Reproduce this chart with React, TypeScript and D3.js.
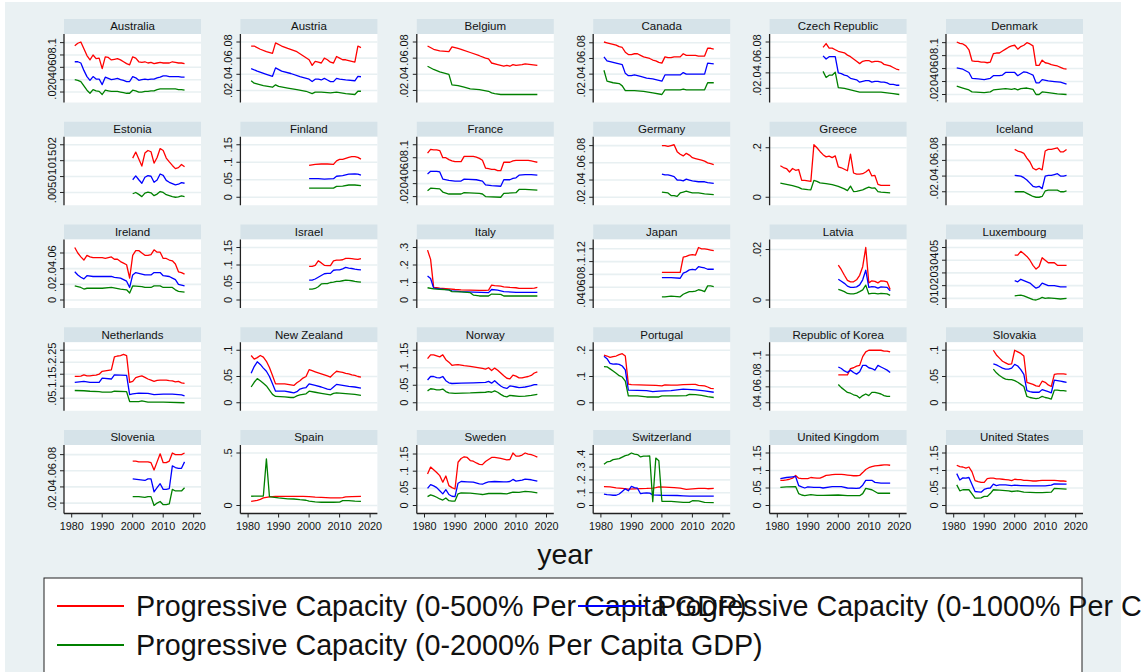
import React from "react";
import * as d3 from "d3";

type Pt = [number, number];

const COUNTRIES = [
  "Australia", "Austria", "Belgium", "Canada", "Czech Republic", "Denmark",
  "Estonia", "Finland", "France", "Germany", "Greece", "Iceland",
  "Ireland", "Israel", "Italy", "Japan", "Latvia", "Luxembourg",
  "Netherlands", "New Zealand", "Norway", "Portugal", "Republic of Korea", "Slovakia",
  "Slovenia", "Spain", "Sweden", "Switzerland", "United Kingdom", "United States",
];

const Y_TICKS: number[][] = [
  [.02, .04, .06, .08, .1], [.02, .04, .06, .08], [.02, .04, .06, .08], [.02, .04, .06, .08], [.02, .04, .06, .08], [.02, .04, .06, .08, .1],
  [.005, .01, .015, .02], [0, .05, .1, .15], [.02, .04, .06, .08, .1], [.02, .04, .06, .08], [0, .2], [.02, .04, .06, .08],
  [0, .02, .04, .06], [0, .05, .1, .15], [0, .1, .2, .3], [.04, .06, .08, .1, .12], [0, .02], [.01, .02, .03, .04, .05],
  [.05, .1, .15, .2, .25], [0, .05, .1], [0, .05, .1, .15], [0, .1, .2], [.04, .06, .08, .1], [0, .05, .1],
  [.02, .04, .06, .08], [0, .5], [0, .05, .1, .15], [0, .1, .2, .3, .4], [0, .05, .1, .15], [0, .05, .1, .15],
];

const X_TICKS = [1980, 1990, 2000, 2010, 2020];

// Progressive Capacity (0-500% Per Capita GDP)
const CAP_500: Pt[][] = [
  [[1981,.095],[1982,.099],[1983,.101],[1984,.09],[1985,.079],[1986,.072],[1987,.080],[1988,.074],[1989,.075],[1990,.058],[1991,.077],[1992,.076],[1993,.072],[1994,.073],[1995,.074],[1996,.072],[1997,.069],[1998,.066],[1999,.064],[2000,.077],[2001,.075],[2002,.069],[2003,.068],[2004,.069],[2005,.067],[2006,.068],[2007,.066],[2008,.067],[2009,.068],[2010,.067],[2011,.067],[2012,.067],[2013,.069],[2014,.068],[2015,.067],[2016,.067],[2017,.066]],
  [[1981,.075],[1982,.075],[1984,.071],[1986,.068],[1988,.066],[1989,.079],[1991,.075],[1993,.072],[1996,.068],[1998,.063],[2000,.058],[2001,.051],[2002,.056],[2003,.055],[2004,.054],[2005,.060],[2006,.058],[2007,.055],[2008,.054],[2009,.062],[2010,.060],[2011,.058],[2012,.058],[2013,.057],[2014,.056],[2015,.055],[2016,.075],[2017,.073]],
  [[1981,.075],[1983,.071],[1985,.069],[1988,.068],[1989,.074],[1991,.072],[1992,.071],[1995,.067],[1998,.063],[2000,.060],[2001,.059],[2002,.054],[2004,.052],[2006,.050],[2007,.051],[2008,.050],[2009,.052],[2010,.051],[2012,.052],[2013,.053],[2015,.052],[2017,.051]],
  [[1981,.081],[1982,.080],[1983,.079],[1984,.078],[1985,.077],[1986,.075],[1987,.074],[1988,.068],[1989,.065],[1990,.065],[1991,.066],[1992,.066],[1993,.064],[1994,.062],[1995,.061],[1996,.060],[1997,.058],[1998,.057],[1999,.055],[2000,.054],[2001,.062],[2002,.061],[2003,.061],[2004,.062],[2005,.062],[2006,.062],[2007,.066],[2008,.064],[2009,.064],[2010,.064],[2011,.064],[2012,.063],[2013,.063],[2014,.063],[2015,.073],[2016,.073],[2017,.072]],
  [[1995,.073],[1996,.078],[1997,.072],[1998,.072],[1999,.070],[2000,.068],[2001,.067],[2002,.066],[2003,.063],[2004,.061],[2005,.058],[2006,.055],[2007,.052],[2008,.055],[2009,.056],[2010,.056],[2011,.054],[2012,.055],[2013,.055],[2014,.054],[2015,.051],[2016,.050],[2017,.049],[2018,.047],[2019,.045],[2020,.044]],
  [[1981,.101],[1982,.099],[1983,.098],[1984,.095],[1985,.089],[1986,.072],[1987,.071],[1988,.071],[1989,.070],[1990,.070],[1991,.069],[1992,.070],[1993,.083],[1994,.084],[1995,.084],[1996,.087],[1997,.090],[1998,.093],[1999,.095],[2000,.096],[2001,.090],[2002,.094],[2003,.096],[2004,.100],[2005,.098],[2006,.095],[2007,.065],[2008,.065],[2009,.073],[2010,.069],[2011,.068],[2012,.066],[2013,.065],[2014,.064],[2015,.062],[2016,.060],[2017,.059]],
  [[2000,.0158],[2001,.0177],[2002,.0155],[2003,.0133],[2004,.0174],[2005,.0182],[2006,.0178],[2007,.0142],[2008,.016],[2009,.0188],[2010,.0182],[2011,.0158],[2012,.0146],[2013,.0135],[2014,.0125],[2015,.0128],[2016,.0138],[2017,.0131]],
  [[2000,.091],[2002,.094],[2004,.095],[2006,.095],[2008,.094],[2009,.104],[2010,.108],[2011,.108],[2012,.111],[2013,.114],[2014,.116],[2015,.116],[2016,.114],[2017,.109]],
  [[1981,.087],[1982,.093],[1983,.092],[1984,.092],[1985,.091],[1986,.080],[1987,.080],[1988,.077],[1989,.075],[1990,.074],[1991,.074],[1992,.074],[1993,.082],[1994,.082],[1995,.082],[1996,.082],[1997,.081],[1998,.079],[1999,.076],[2000,.064],[2001,.063],[2002,.062],[2003,.062],[2004,.060],[2005,.060],[2006,.073],[2007,.073],[2008,.073],[2009,.075],[2010,.076],[2011,.076],[2012,.076],[2013,.076],[2014,.076],[2015,.075],[2016,.074],[2017,.073]],
  [[2000,.080],[2001,.080],[2002,.079],[2003,.080],[2004,.081],[2005,.073],[2006,.070],[2007,.068],[2008,.071],[2009,.069],[2010,.066],[2011,.065],[2012,.064],[2013,.063],[2014,.062],[2015,.060],[2016,.059],[2017,.058]],
  [[1981,.127],[1982,.120],[1983,.116],[1984,.102],[1985,.116],[1986,.109],[1987,.112],[1988,.068],[1989,.068],[1990,.066],[1991,.064],[1992,.212],[1993,.200],[1994,.185],[1995,.172],[1996,.163],[1997,.166],[1998,.160],[1999,.167],[2000,.123],[2001,.119],[2002,.113],[2003,.107],[2004,.174],[2005,.098],[2006,.093],[2007,.093],[2008,.095],[2009,.102],[2010,.112],[2011,.086],[2012,.088],[2013,.052],[2014,.048],[2015,.048],[2016,.048],[2017,.048]],
  [[2000,.074],[2001,.072],[2002,.071],[2003,.069],[2004,.063],[2005,.058],[2006,.050],[2007,.048],[2008,.050],[2009,.048],[2010,.072],[2011,.074],[2012,.074],[2013,.075],[2014,.076],[2015,.071],[2016,.071],[2017,.074]],
  [[1981,.067],[1982,.060],[1983,.055],[1984,.051],[1985,.057],[1986,.055],[1987,.054],[1988,.054],[1989,.054],[1990,.054],[1991,.053],[1992,.054],[1993,.055],[1994,.052],[1995,.052],[1996,.049],[1997,.047],[1998,.045],[1999,.028],[2000,.057],[2001,.063],[2002,.063],[2003,.060],[2004,.057],[2005,.057],[2006,.058],[2007,.064],[2008,.061],[2009,.061],[2010,.053],[2011,.053],[2012,.051],[2013,.050],[2014,.046],[2015,.036],[2016,.035],[2017,.033]],
  [[2000,.096],[2001,.096],[2002,.099],[2003,.112],[2004,.106],[2005,.099],[2006,.098],[2007,.098],[2008,.112],[2009,.114],[2010,.114],[2011,.115],[2012,.119],[2013,.119],[2014,.118],[2015,.117],[2016,.116],[2017,.118]],
  [[1981,.285],[1982,.232],[1983,.072],[1984,.070],[1985,.068],[1988,.064],[1990,.060],[1992,.058],[1995,.057],[1998,.055],[2000,.055],[2001,.056],[2002,.085],[2003,.082],[2005,.079],[2006,.075],[2008,.072],[2010,.070],[2011,.066],[2013,.066],[2015,.067],[2016,.068],[2017,.072]],
  [[2000,.083],[2002,.083],[2004,.083],[2006,.083],[2007,.107],[2008,.108],[2009,.110],[2010,.111],[2011,.110],[2012,.122],[2013,.120],[2014,.120],[2015,.119],[2016,.118],[2017,.117]],
  [[2000,.0138],[2001,.0120],[2002,.0098],[2003,.0078],[2004,.0072],[2005,.0072],[2006,.0080],[2007,.0098],[2008,.0132],[2009,.0208],[2010,.0068],[2011,.0076],[2012,.0074],[2013,.0068],[2014,.0076],[2015,.0075],[2016,.0072],[2017,.0042]],
  [[2000,.044],[2001,.044],[2002,.047],[2003,.045],[2004,.043],[2005,.040],[2006,.036],[2007,.033],[2008,.035],[2009,.042],[2010,.040],[2011,.038],[2012,.038],[2013,.038],[2014,.036],[2015,.036],[2016,.036],[2017,.036]],
  [[1981,.141],[1982,.141],[1983,.142],[1984,.147],[1985,.143],[1986,.143],[1987,.145],[1988,.146],[1989,.150],[1990,.162],[1991,.164],[1992,.166],[1993,.168],[1994,.222],[1995,.226],[1996,.228],[1997,.233],[1998,.228],[1999,.116],[2000,.120],[2001,.136],[2002,.140],[2003,.143],[2004,.137],[2005,.130],[2006,.125],[2007,.120],[2008,.124],[2009,.125],[2010,.125],[2011,.125],[2012,.123],[2013,.122],[2014,.118],[2015,.120],[2016,.114],[2017,.112]],
  [[1981,.090],[1982,.083],[1983,.086],[1984,.090],[1985,.087],[1986,.079],[1987,.067],[1988,.052],[1989,.036],[1990,.036],[1991,.036],[1992,.036],[1993,.035],[1994,.034],[1995,.033],[1996,.038],[1997,.042],[1998,.047],[1999,.050],[2000,.063],[2001,.061],[2002,.059],[2003,.057],[2004,.055],[2005,.053],[2006,.051],[2007,.049],[2008,.055],[2009,.060],[2010,.059],[2011,.058],[2012,.056],[2013,.055],[2014,.053],[2015,.052],[2016,.050],[2017,.049]],
  [[1981,.126],[1982,.137],[1983,.137],[1984,.134],[1985,.131],[1986,.137],[1987,.123],[1988,.116],[1989,.107],[1990,.108],[1991,.109],[1993,.106],[1995,.104],[1997,.101],[1999,.098],[2000,.096],[2001,.100],[2002,.092],[2003,.099],[2004,.093],[2005,.085],[2006,.077],[2007,.070],[2008,.068],[2009,.079],[2010,.076],[2011,.071],[2012,.071],[2013,.073],[2014,.075],[2015,.078],[2016,.085],[2017,.088]],
  [[1981,.181],[1982,.178],[1983,.173],[1984,.176],[1985,.178],[1986,.183],[1987,.187],[1988,.178],[1989,.071],[1990,.069],[1995,.067],[1998,.066],[2000,.064],[2001,.068],[2003,.067],[2005,.067],[2007,.069],[2010,.070],[2011,.070],[2012,.066],[2014,.064],[2015,.060],[2016,.055],[2017,.054]],
  [[2000,.075],[2001,.075],[2002,.075],[2003,.075],[2004,.083],[2005,.084],[2006,.086],[2007,.087],[2008,.098],[2009,.104],[2010,.106],[2011,.106],[2012,.106],[2013,.106],[2014,.106],[2015,.105],[2016,.105],[2017,.104]],
  [[1993,.100],[1994,.091],[1995,.085],[1996,.079],[1997,.076],[1998,.073],[1999,.074],[2000,.100],[2001,.097],[2002,.094],[2003,.089],[2004,.039],[2005,.037],[2006,.035],[2007,.032],[2008,.031],[2009,.041],[2010,.039],[2011,.034],[2012,.031],[2013,.054],[2014,.055],[2015,.055],[2016,.055],[2017,.054]],
  [[2000,.072],[2001,.072],[2002,.071],[2003,.071],[2004,.071],[2005,.071],[2006,.070],[2007,.061],[2008,.071],[2009,.081],[2010,.070],[2011,.070],[2012,.072],[2013,.082],[2014,.080],[2015,.080],[2016,.080],[2017,.082]],
  [[1981,.040],[1982,.044],[1983,.048],[1984,.058],[1985,.072],[1986,.078],[1987,.083],[1988,.085],[1989,.087],[1990,.087],[1995,.087],[1998,.086],[2000,.085],[2002,.080],[2004,.077],[2007,.073],[2010,.072],[2011,.076],[2012,.083],[2014,.084],[2017,.087]],
  [[1981,.092],[1982,.112],[1983,.104],[1984,.096],[1985,.087],[1986,.068],[1987,.086],[1988,.058],[1989,.052],[1990,.048],[1991,.126],[1992,.137],[1993,.142],[1994,.140],[1995,.131],[1996,.129],[1997,.124],[1998,.120],[1999,.119],[2000,.128],[2001,.134],[2002,.140],[2003,.140],[2004,.139],[2005,.137],[2006,.135],[2007,.133],[2008,.134],[2009,.153],[2010,.144],[2011,.144],[2012,.147],[2013,.153],[2014,.150],[2015,.148],[2016,.145],[2017,.141]],
  [[1981,.148],[1983,.145],[1985,.138],[1987,.133],[1989,.128],[1991,.130],[1993,.132],[1995,.133],[1997,.136],[1998,.140],[1999,.145],[2001,.143],[2004,.140],[2006,.136],[2008,.126],[2010,.130],[2012,.133],[2014,.134],[2015,.131],[2017,.133]],
  [[1981,.072],[1982,.072],[1983,.073],[1984,.075],[1985,.078],[1986,.086],[1987,.078],[1988,.077],[1989,.077],[1990,.077],[1991,.080],[1992,.079],[1993,.078],[1994,.078],[1995,.082],[1996,.086],[1997,.087],[1998,.088],[1999,.089],[2000,.089],[2001,.089],[2002,.088],[2003,.087],[2004,.086],[2005,.085],[2006,.085],[2007,.086],[2008,.094],[2009,.103],[2010,.108],[2011,.111],[2012,.113],[2013,.114],[2014,.115],[2015,.116],[2016,.116],[2017,.115]],
  [[1981,.115],[1982,.111],[1983,.110],[1984,.107],[1985,.110],[1986,.096],[1987,.071],[1988,.068],[1989,.066],[1990,.066],[1991,.077],[1992,.078],[1993,.078],[1994,.076],[1995,.076],[1996,.075],[1997,.074],[1998,.073],[1999,.071],[2000,.075],[2001,.074],[2002,.074],[2003,.072],[2004,.072],[2005,.071],[2006,.070],[2007,.070],[2008,.071],[2009,.072],[2010,.072],[2011,.072],[2012,.072],[2013,.072],[2014,.071],[2015,.070],[2016,.070],[2017,.069]],
];

// Progressive Capacity (0-1000% Per Capita GDP)
const CAP_1000: Pt[][] = [
  [[1981,.069],[1982,.069],[1983,.067],[1984,.055],[1985,.045],[1986,.039],[1987,.045],[1988,.041],[1989,.041],[1990,.032],[1991,.044],[1992,.042],[1993,.040],[1994,.041],[1995,.042],[1996,.040],[1997,.039],[1998,.037],[1999,.037],[2000,.045],[2001,.043],[2002,.039],[2003,.040],[2004,.041],[2005,.040],[2006,.041],[2007,.041],[2008,.043],[2009,.044],[2010,.046],[2011,.046],[2012,.045],[2013,.045],[2014,.045],[2015,.045],[2016,.044],[2017,.044]],
  [[1981,.047],[1983,.044],[1986,.040],[1988,.0375],[1989,.048],[1991,.044],[1994,.041],[1997,.037],[2000,.034],[2001,.031],[2002,.034],[2003,.034],[2004,.033],[2005,.035],[2006,.033],[2007,.031],[2008,.031],[2009,.035],[2010,.034],[2012,.033],[2015,.032],[2016,.0375],[2017,.037]],
  [],
  [[1981,.062],[1982,.057],[1984,.055],[1986,.053],[1987,.052],[1988,.041],[1989,.038],[1990,.038],[1991,.039],[1993,.037],[1995,.035],[1997,.034],[1999,.032],[2000,.031],[2001,.039],[2003,.039],[2005,.039],[2006,.039],[2007,.042],[2008,.040],[2010,.040],[2012,.040],[2014,.040],[2015,.054],[2017,.053]],
  [[1995,.062],[1996,.058],[1997,.061],[1998,.061],[1999,.061],[2000,.040],[2001,.039],[2002,.037],[2003,.036],[2004,.033],[2005,.032],[2006,.031],[2007,.028],[2008,.029],[2009,.030],[2010,.030],[2011,.028],[2012,.029],[2013,.029],[2014,.028],[2015,.028],[2016,.027],[2017,.025],[2018,.025],[2019,.024],[2020,.024]],
  [[1981,.061],[1983,.059],[1985,.054],[1986,.045],[1988,.044],[1990,.043],[1992,.045],[1993,.049],[1995,.049],[1996,.050],[1997,.054],[1999,.054],[2000,.054],[2001,.049],[2002,.052],[2003,.055],[2004,.054],[2005,.052],[2006,.050],[2007,.038],[2008,.038],[2009,.043],[2011,.041],[2013,.040],[2015,.039],[2017,.036]],
  [[2000,.009],[2001,.0102],[2002,.009],[2003,.0079],[2004,.0098],[2005,.0103],[2006,.0101],[2007,.0082],[2008,.0089],[2009,.0108],[2010,.0104],[2011,.0088],[2012,.0082],[2013,.0078],[2014,.0074],[2015,.0076],[2016,.0081],[2017,.0079]],
  [[2000,.053],[2003,.053],[2005,.052],[2008,.053],[2009,.060],[2011,.062],[2013,.066],[2015,.067],[2016,.066],[2017,.063]],
  [[1981,.055],[1982,.059],[1984,.059],[1985,.058],[1986,.047],[1988,.045],[1990,.044],[1992,.044],[1993,.047],[1997,.046],[1999,.044],[2000,.038],[2002,.037],[2005,.036],[2006,.046],[2008,.046],[2009,.048],[2010,.049],[2011,.053],[2013,.054],[2015,.054],[2017,.053]],
  [[2000,.047],[2001,.046],[2002,.046],[2003,.045],[2004,.044],[2005,.040],[2006,.040],[2007,.039],[2008,.041],[2009,.040],[2010,.039],[2012,.038],[2014,.038],[2015,.037],[2017,.036]],
  [],
  [[2000,.041],[2002,.040],[2003,.038],[2004,.035],[2005,.031],[2006,.027],[2007,.026],[2008,.027],[2009,.024],[2010,.040],[2011,.041],[2012,.041],[2013,.042],[2014,.043],[2015,.040],[2016,.040],[2017,.041]],
  [[1981,.036],[1982,.032],[1983,.029],[1984,.027],[1985,.031],[1987,.030],[1990,.030],[1992,.030],[1993,.030],[1994,.029],[1996,.028],[1997,.026],[1998,.024],[1999,.016],[2000,.032],[2001,.035],[2002,.034],[2004,.032],[2006,.032],[2007,.035],[2008,.035],[2009,.035],[2010,.031],[2012,.030],[2013,.028],[2014,.026],[2015,.020],[2016,.019],[2017,.018]],
  [[2000,.057],[2001,.057],[2002,.060],[2003,.065],[2004,.070],[2005,.075],[2006,.076],[2007,.076],[2008,.085],[2009,.086],[2010,.086],[2011,.089],[2012,.093],[2013,.091],[2014,.090],[2015,.088],[2016,.087],[2017,.086]],
  [[1981,.137],[1982,.123],[1983,.068],[1985,.064],[1988,.058],[1989,.052],[1992,.048],[1996,.045],[2001,.042],[2002,.060],[2004,.057],[2006,.048],[2010,.044],[2017,.044]],
  [[2000,.075],[2003,.075],[2006,.074],[2007,.082],[2008,.084],[2009,.087],[2010,.088],[2011,.087],[2012,.092],[2013,.091],[2014,.090],[2015,.088],[2017,.088]],
  [[2000,.0082],[2001,.0074],[2002,.0066],[2003,.0055],[2004,.0050],[2005,.0050],[2006,.0052],[2007,.0060],[2008,.0080],[2009,.0118],[2010,.0050],[2011,.0053],[2012,.0052],[2013,.0047],[2014,.0052],[2015,.0051],[2016,.0050],[2017,.0036]],
  [[2000,.024],[2001,.023],[2002,.025],[2003,.024],[2004,.023],[2005,.022],[2006,.020],[2007,.018],[2008,.019],[2009,.022],[2010,.021],[2011,.020],[2013,.020],[2015,.019],[2017,.019]],
  [[1981,.116],[1984,.120],[1986,.116],[1989,.116],[1990,.134],[1993,.130],[1994,.147],[1998,.145],[1999,.065],[2000,.068],[2002,.071],[2005,.070],[2007,.065],[2010,.067],[2013,.067],[2016,.064],[2017,.060]],
  [[1981,.056],[1982,.069],[1983,.078],[1984,.073],[1985,.066],[1986,.060],[1987,.050],[1988,.036],[1989,.022],[1992,.022],[1994,.020],[1995,.019],[1996,.021],[1997,.026],[1998,.028],[1999,.029],[2000,.036],[2002,.033],[2004,.030],[2006,.026],[2007,.025],[2008,.030],[2009,.035],[2011,.033],[2013,.031],[2015,.030],[2017,.028]],
  [[1981,.065],[1982,.075],[1983,.075],[1984,.072],[1985,.071],[1986,.075],[1987,.063],[1988,.057],[1989,.055],[1992,.056],[1996,.057],[2000,.058],[2001,.061],[2002,.056],[2003,.063],[2004,.055],[2005,.048],[2006,.043],[2007,.041],[2008,.048],[2009,.047],[2010,.045],[2011,.043],[2012,.044],[2013,.045],[2014,.047],[2015,.049],[2016,.052],[2017,.052]],
  [[1981,.177],[1982,.168],[1983,.150],[1984,.147],[1985,.148],[1986,.146],[1987,.140],[1988,.125],[1989,.048],[1995,.046],[1997,.042],[1999,.044],[2003,.046],[2007,.052],[2011,.049],[2014,.045],[2017,.040]],
  [[2000,.085],[2001,.083],[2002,.080],[2003,.078],[2004,.081],[2005,.078],[2006,.076],[2007,.079],[2008,.087],[2009,.087],[2010,.084],[2011,.083],[2012,.081],[2013,.087],[2014,.085],[2015,.083],[2016,.081],[2017,.078]],
  [[1993,.074],[1994,.072],[1995,.069],[1996,.066],[1997,.064],[1998,.064],[1999,.066],[2000,.073],[2001,.070],[2002,.063],[2003,.054],[2004,.023],[2005,.021],[2006,.020],[2007,.020],[2008,.020],[2009,.025],[2010,.023],[2011,.021],[2012,.019],[2013,.043],[2014,.042],[2015,.041],[2016,.040],[2017,.039]],
  [[2000,.050],[2002,.049],[2004,.048],[2005,.050],[2006,.050],[2007,.034],[2008,.039],[2009,.044],[2010,.037],[2011,.037],[2012,.038],[2013,.066],[2014,.064],[2015,.063],[2016,.063],[2017,.071]],
  [],
  [[1981,.050],[1982,.061],[1983,.057],[1984,.052],[1985,.043],[1986,.034],[1987,.046],[1988,.032],[1989,.027],[1990,.026],[1991,.065],[1992,.070],[1994,.069],[1996,.068],[1998,.063],[1999,.062],[2000,.066],[2001,.069],[2003,.070],[2006,.069],[2007,.069],[2008,.070],[2009,.076],[2010,.071],[2012,.074],[2013,.077],[2015,.075],[2017,.071]],
  [[1981,.089],[1982,.085],[1983,.083],[1984,.080],[1985,.080],[1986,.090],[1987,.110],[1988,.130],[1989,.115],[1990,.150],[1991,.140],[1992,.135],[1993,.092],[1994,.097],[1995,.098],[1996,.097],[1997,.083],[2000,.080],[2005,.078],[2007,.075],[2009,.073],[2017,.073]],
  [[1981,.077],[1983,.080],[1985,.082],[1986,.083],[1987,.057],[1988,.053],[1989,.050],[1990,.053],[1992,.052],[1994,.052],[1995,.050],[1998,.054],[2001,.054],[2003,.050],[2006,.049],[2007,.050],[2008,.058],[2009,.072],[2011,.072],[2012,.066],[2014,.064],[2017,.064]],
  [[1981,.091],[1982,.073],[1983,.079],[1984,.078],[1985,.080],[1986,.060],[1987,.040],[1988,.039],[1989,.038],[1990,.046],[1991,.049],[1992,.050],[1993,.061],[1994,.057],[1995,.059],[1997,.059],[1999,.057],[2000,.058],[2002,.057],[2005,.056],[2008,.056],[2010,.056],[2012,.058],[2013,.062],[2017,.061]],
];

// Progressive Capacity (0-2000% Per Capita GDP)
const CAP_2000: Pt[][] = [
  [[1981,.040],[1982,.039],[1983,.037],[1984,.030],[1985,.023],[1986,.018],[1987,.024],[1988,.022],[1989,.021],[1990,.016],[1991,.023],[1992,.022],[1993,.021],[1994,.021],[1995,.021],[1996,.020],[1997,.019],[1998,.018],[1999,.018],[2000,.023],[2001,.022],[2002,.020],[2003,.020],[2004,.021],[2005,.021],[2006,.022],[2007,.022],[2008,.024],[2009,.025],[2010,.025],[2011,.025],[2012,.025],[2013,.025],[2014,.025],[2015,.024],[2016,.024],[2017,.023]],
  [[1981,.032],[1982,.029],[1985,.026],[1988,.024],[1989,.027],[1990,.025],[1993,.023],[1996,.021],[1999,.019],[2001,.016],[2002,.018],[2004,.018],[2007,.017],[2009,.018],[2012,.016],[2015,.015],[2016,.019],[2017,.019]],
  [[1981,.050],[1983,.046],[1985,.043],[1988,.040],[1989,.027],[1991,.026],[1993,.024],[1995,.022],[1998,.021],[2001,.019],[2002,.017],[2003,.016],[2005,.015],[2010,.015],[2013,.015],[2017,.015]],
  [[1981,.045],[1982,.031],[1984,.029],[1986,.028],[1987,.025],[1988,.019],[1991,.019],[1994,.018],[1997,.016],[2000,.014],[2001,.020],[2006,.020],[2007,.021],[2008,.020],[2014,.020],[2015,.029],[2017,.029]],
  [[1995,.042],[1996,.034],[1997,.037],[1998,.037],[1999,.041],[2000,.021],[2002,.020],[2004,.018],[2006,.016],[2007,.015],[2010,.015],[2012,.015],[2014,.015],[2016,.014],[2018,.013],[2020,.012]],
  [[1981,.033],[1983,.030],[1985,.027],[1986,.024],[1990,.023],[1992,.024],[1993,.027],[1997,.029],[1999,.028],[2000,.029],[2001,.027],[2002,.029],[2004,.030],[2006,.028],[2007,.020],[2008,.020],[2009,.024],[2011,.023],[2014,.021],[2017,.020]],
  [[2000,.0046],[2001,.005],[2002,.0044],[2003,.0037],[2004,.0048],[2005,.0051],[2006,.0049],[2007,.004],[2008,.0045],[2009,.0053],[2010,.005],[2011,.0043],[2012,.004],[2013,.0037],[2014,.0035],[2015,.0036],[2016,.0039],[2017,.0037]],
  [[2000,.026],[2008,.026],[2009,.031],[2011,.032],[2013,.035],[2015,.035],[2017,.033]],
  [[1981,.029],[1982,.033],[1985,.032],[1986,.027],[1988,.024],[1992,.024],[1993,.026],[1998,.025],[1999,.024],[2000,.020],[2005,.019],[2006,.025],[2010,.026],[2011,.031],[2013,.031],[2017,.030]],
  [[2000,.026],[2002,.025],[2003,.022],[2004,.022],[2005,.021],[2006,.025],[2007,.026],[2008,.027],[2009,.026],[2010,.025],[2012,.025],[2014,.024],[2017,.023]],
  [[1981,.057],[1983,.052],[1985,.047],[1987,.040],[1988,.034],[1990,.031],[1991,.030],[1992,.068],[1993,.064],[1994,.058],[1996,.055],[1998,.051],[2000,.044],[2002,.034],[2003,.027],[2004,.045],[2005,.023],[2006,.024],[2008,.030],[2009,.036],[2010,.041],[2011,.037],[2012,.038],[2013,.023],[2014,.021],[2017,.018]],
  [[2000,.020],[2003,.020],[2004,.018],[2005,.016],[2006,.014],[2007,.013],[2008,.013],[2009,.014],[2010,.021],[2011,.022],[2013,.022],[2014,.022],[2015,.020],[2016,.020],[2017,.021]],
  [[1981,.018],[1983,.016],[1984,.014],[1985,.015],[1990,.015],[1993,.016],[1996,.014],[1998,.013],[1999,.009],[2000,.018],[2003,.017],[2004,.016],[2006,.016],[2007,.018],[2009,.018],[2010,.016],[2013,.016],[2014,.013],[2015,.011],[2017,.010]],
  [[2000,.031],[2001,.031],[2002,.033],[2003,.038],[2004,.046],[2005,.047],[2006,.047],[2007,.050],[2008,.051],[2009,.053],[2010,.053],[2011,.055],[2012,.057],[2013,.056],[2014,.055],[2015,.053],[2016,.052],[2017,.051]],
  [[1981,.070],[1983,.063],[1985,.061],[1988,.058],[1989,.048],[1992,.047],[1995,.042],[1996,.028],[1998,.023],[2001,.023],[2002,.034],[2005,.032],[2006,.023],[2017,.023]],
  [[2000,.045],[2001,.045],[2003,.046],[2006,.045],[2007,.049],[2008,.051],[2009,.053],[2010,.053],[2011,.054],[2012,.056],[2013,.055],[2014,.053],[2015,.062],[2016,.062],[2017,.061]],
  [[2000,.0042],[2001,.0038],[2002,.0033],[2003,.0026],[2004,.0024],[2005,.0024],[2006,.0027],[2007,.0033],[2008,.0040],[2009,.0059],[2010,.0024],[2011,.0026],[2012,.0026],[2013,.0024],[2014,.0026],[2015,.0025],[2016,.0024],[2017,.0018]],
  [[2000,.012],[2002,.0126],[2003,.012],[2004,.011],[2005,.010],[2006,.009],[2007,.0087],[2008,.0095],[2009,.0108],[2010,.010],[2011,.0103],[2013,.010],[2015,.0095],[2017,.010]],
  [[1981,.082],[1984,.081],[1986,.079],[1989,.077],[1990,.075],[1993,.075],[1994,.079],[1998,.077],[1999,.036],[2002,.036],[2003,.039],[2005,.034],[2010,.034],[2017,.031]],
  [[1981,.030],[1982,.039],[1983,.046],[1984,.042],[1985,.037],[1986,.032],[1987,.024],[1988,.016],[1989,.012],[1992,.011],[1994,.010],[1995,.010],[1996,.013],[1997,.015],[1998,.016],[1999,.017],[2000,.022],[2002,.020],[2004,.018],[2006,.016],[2007,.015],[2008,.018],[2009,.019],[2011,.018],[2013,.017],[2015,.016],[2017,.014]],
  [[1981,.034],[1982,.040],[1983,.039],[1984,.037],[1985,.037],[1986,.039],[1987,.032],[1988,.028],[1990,.027],[1995,.028],[2000,.030],[2001,.032],[2002,.030],[2003,.034],[2004,.030],[2005,.024],[2006,.019],[2007,.017],[2008,.021],[2009,.020],[2011,.018],[2013,.019],[2015,.021],[2017,.024]],
  [[1981,.138],[1982,.137],[1983,.129],[1984,.121],[1985,.112],[1986,.103],[1987,.098],[1988,.082],[1989,.026],[1992,.026],[1995,.022],[1999,.022],[2000,.026],[2005,.026],[2008,.027],[2009,.032],[2011,.031],[2013,.028],[2015,.023],[2017,.020]],
  [[2000,.063],[2001,.059],[2002,.056],[2003,.053],[2004,.052],[2005,.050],[2006,.049],[2007,.046],[2008,.049],[2009,.051],[2010,.049],[2011,.053],[2012,.053],[2013,.052],[2014,.051],[2015,.049],[2016,.048],[2017,.048]],
  [[1993,.064],[1994,.057],[1995,.052],[1996,.048],[1997,.045],[1998,.044],[1999,.044],[2000,.042],[2001,.039],[2002,.035],[2003,.031],[2004,.012],[2005,.010],[2006,.009],[2007,.008],[2008,.009],[2009,.012],[2010,.010],[2011,.009],[2012,.007],[2013,.024],[2014,.024],[2015,.023],[2016,.023],[2017,.022]],
  [[2000,.028],[2002,.028],[2004,.027],[2005,.028],[2006,.028],[2007,.017],[2008,.020],[2009,.022],[2010,.018],[2011,.018],[2012,.019],[2013,.037],[2014,.035],[2015,.035],[2016,.035],[2017,.039]],
  [[1981,.088],[1982,.090],[1983,.090],[1984,.090],[1985,.090],[1986,.444],[1987,.084],[1988,.080],[1990,.072],[1993,.063],[1995,.062],[1997,.055],[1999,.050],[2000,.041],[2002,.035],[2004,.031],[2008,.031],[2010,.032],[2011,.046],[2013,.047],[2015,.041],[2017,.040]],
  [[1981,.026],[1982,.031],[1983,.028],[1984,.024],[1985,.019],[1986,.016],[1987,.022],[1988,.014],[1989,.013],[1990,.013],[1991,.034],[1992,.037],[1995,.036],[1998,.033],[1999,.032],[2001,.035],[2005,.035],[2007,.034],[2009,.039],[2011,.038],[2013,.041],[2015,.040],[2017,.037]],
  [[1981,.322],[1982,.340],[1983,.345],[1984,.358],[1985,.362],[1986,.366],[1987,.378],[1988,.390],[1989,.395],[1990,.410],[1991,.402],[1992,.398],[1993,.379],[1994,.385],[1995,.386],[1996,.387],[1997,.030],[1998,.370],[1999,.350],[2000,.033],[2003,.032],[2005,.029],[2007,.025],[2009,.024],[2010,.037],[2012,.036],[2014,.024],[2017,.023]],
  [[1981,.052],[1983,.053],[1986,.054],[1987,.034],[1988,.030],[1989,.028],[1991,.031],[1993,.029],[1995,.029],[2000,.030],[2003,.028],[2007,.028],[2008,.034],[2009,.049],[2011,.045],[2013,.035],[2017,.035]],
  [[1981,.059],[1982,.042],[1983,.045],[1985,.045],[1986,.033],[1987,.021],[1988,.021],[1989,.022],[1990,.026],[1991,.026],[1992,.034],[1993,.045],[1995,.044],[1998,.042],[1999,.040],[2001,.042],[2003,.038],[2007,.037],[2009,.037],[2012,.038],[2013,.049],[2017,.047]],
];

const SERIES_LABELS = [
  "Progressive Capacity (0-500% Per Capita GDP)",
  "Progressive Capacity (0-1000% Per Capita GDP)",
  "Progressive Capacity (0-2000% Per Capita GDP)",
];
const SERIES_COLORS = ["#ff0000", "#0000ff", "#008000"];
const X_TITLE = "year";

const W = 1141, H = 672;
const NCOL = 6;
const COL0 = 64, COL_STEP = 176.4, PW = 137;
const ROW0 = 19, ROW_STEP = 102.75, STRIP_H = 15, PH = 68.5;
const INNER = 8;
const FONT = "'Liberation Sans', Arial, Helvetica, sans-serif";
const BG = "#eaf1f3";
const STRIP = "#d6e3e9";
const GRID = "#e8f0f2";

function fmt(v: number): string {
  if (v === 0) return "0";
  const s = String(+v.toFixed(4));
  return s.replace(/^0\./, ".");
}

function Panel({ idx }: { idx: number }) {
  const col = idx % NCOL;
  const row = Math.floor(idx / NCOL);
  const left = COL0 + col * COL_STEP;
  const stripTop = ROW0 + row * ROW_STEP;
  const top = stripTop + STRIP_H;
  const bottom = top + PH;
  const isBottom = row === 4;

  const series = [CAP_500[idx], CAP_1000[idx], CAP_2000[idx]];
  const ticks = Y_TICKS[idx];
  const vals = series.flat().map((d) => d[1]).concat(ticks);
  const lo = d3.min(vals) as number;
  const hi = d3.max(vals) as number;

  const x = d3.scaleLinear().domain([1980, 2020]).range([left + 7.7, left + 129.7]);
  const y = d3.scaleLinear().domain([lo, hi]).range([bottom - INNER, top + INNER]);
  const line = d3.line<Pt>().x((d) => x(d[0])).y((d) => y(d[1]));

  return (
    <g>
      <rect x={left} y={stripTop} width={PW} height={STRIP_H} fill={STRIP} />
      <text x={left + PW / 2} y={stripTop + 11.4} textAnchor="middle" fontSize={11.5} fontFamily={FONT} fill="#111">
        {COUNTRIES[idx]}
      </text>
      <rect x={left} y={top} width={PW} height={PH} fill="#ffffff" />
      {ticks.map((t, i) => (
        <line key={"g" + i} x1={left} x2={left + PW} y1={y(t)} y2={y(t)} stroke={GRID} strokeWidth={1.6} />
      ))}
      {series.map((s, k) =>
        s.length ? (
          <path key={"s" + k} d={line(s) || ""} fill="none" stroke={SERIES_COLORS[k]} strokeWidth={1.3} strokeLinejoin="round" />
        ) : null
      )}
      <line x1={left} x2={left} y1={top} y2={bottom} stroke="#222" strokeWidth={1.3} />
      {ticks.map((t, i) => (
        <g key={"t" + i}>
          <line x1={left - 4} x2={left} y1={y(t)} y2={y(t)} stroke="#222" strokeWidth={1} />
          <text
            transform={`translate(${left - 8.5},${y(t)}) rotate(-90)`}
            textAnchor="middle"
            fontSize={11}
            fontFamily={FONT}
            fill="#111"
          >
            {fmt(t)}
          </text>
        </g>
      ))}
      {isBottom && (
        <g>
          <line x1={left} x2={left + PW} y1={bottom} y2={bottom} stroke="#222" strokeWidth={1.3} />
          {X_TICKS.map((t) => (
            <g key={"x" + t}>
              <line x1={x(t)} x2={x(t)} y1={bottom} y2={bottom + 4} stroke="#222" strokeWidth={1} />
              <text x={x(t)} y={bottom + 16} textAnchor="middle" fontSize={10.8} fontFamily={FONT} fill="#111">
                {t}
              </text>
            </g>
          ))}
        </g>
      )}
    </g>
  );
}

export default function App() {
  const legendItems = [
    { i: 0, lx: 57, ly: 606 },
    { i: 1, lx: 578, ly: 606 },
    { i: 2, lx: 57, ly: 645 },
  ];
  return (
    <svg
      width={W}
      height={H}
      style={{ position: "absolute", left: 0, top: 0, display: "block" }}
      xmlns="http://www.w3.org/2000/svg"
    >
      <rect x={0} y={0} width={W} height={H} fill="#ffffff" />
      <rect x={5} y={2} width={1116} height={H} fill={BG} />
      {COUNTRIES.map((_, i) => (
        <Panel key={i} idx={i} />
      ))}
      <text x={565} y={564} textAnchor="middle" fontSize={28.5} fontFamily={FONT} fill="#111">
        {X_TITLE}
      </text>
      <rect x={44} y={578} width={1038} height={120} fill="#ffffff" stroke="#222" strokeWidth={1} />
      {legendItems.map(({ i, lx, ly }) => (
        <g key={"l" + i}>
          <line x1={lx} x2={lx + 67} y1={ly} y2={ly} stroke={SERIES_COLORS[i]} strokeWidth={2} />
          <text x={lx + 79} y={ly + 10} fontSize={28.7} fontFamily={FONT} fill="#111">
            {SERIES_LABELS[i]}
          </text>
        </g>
      ))}
    </svg>
  );
}
